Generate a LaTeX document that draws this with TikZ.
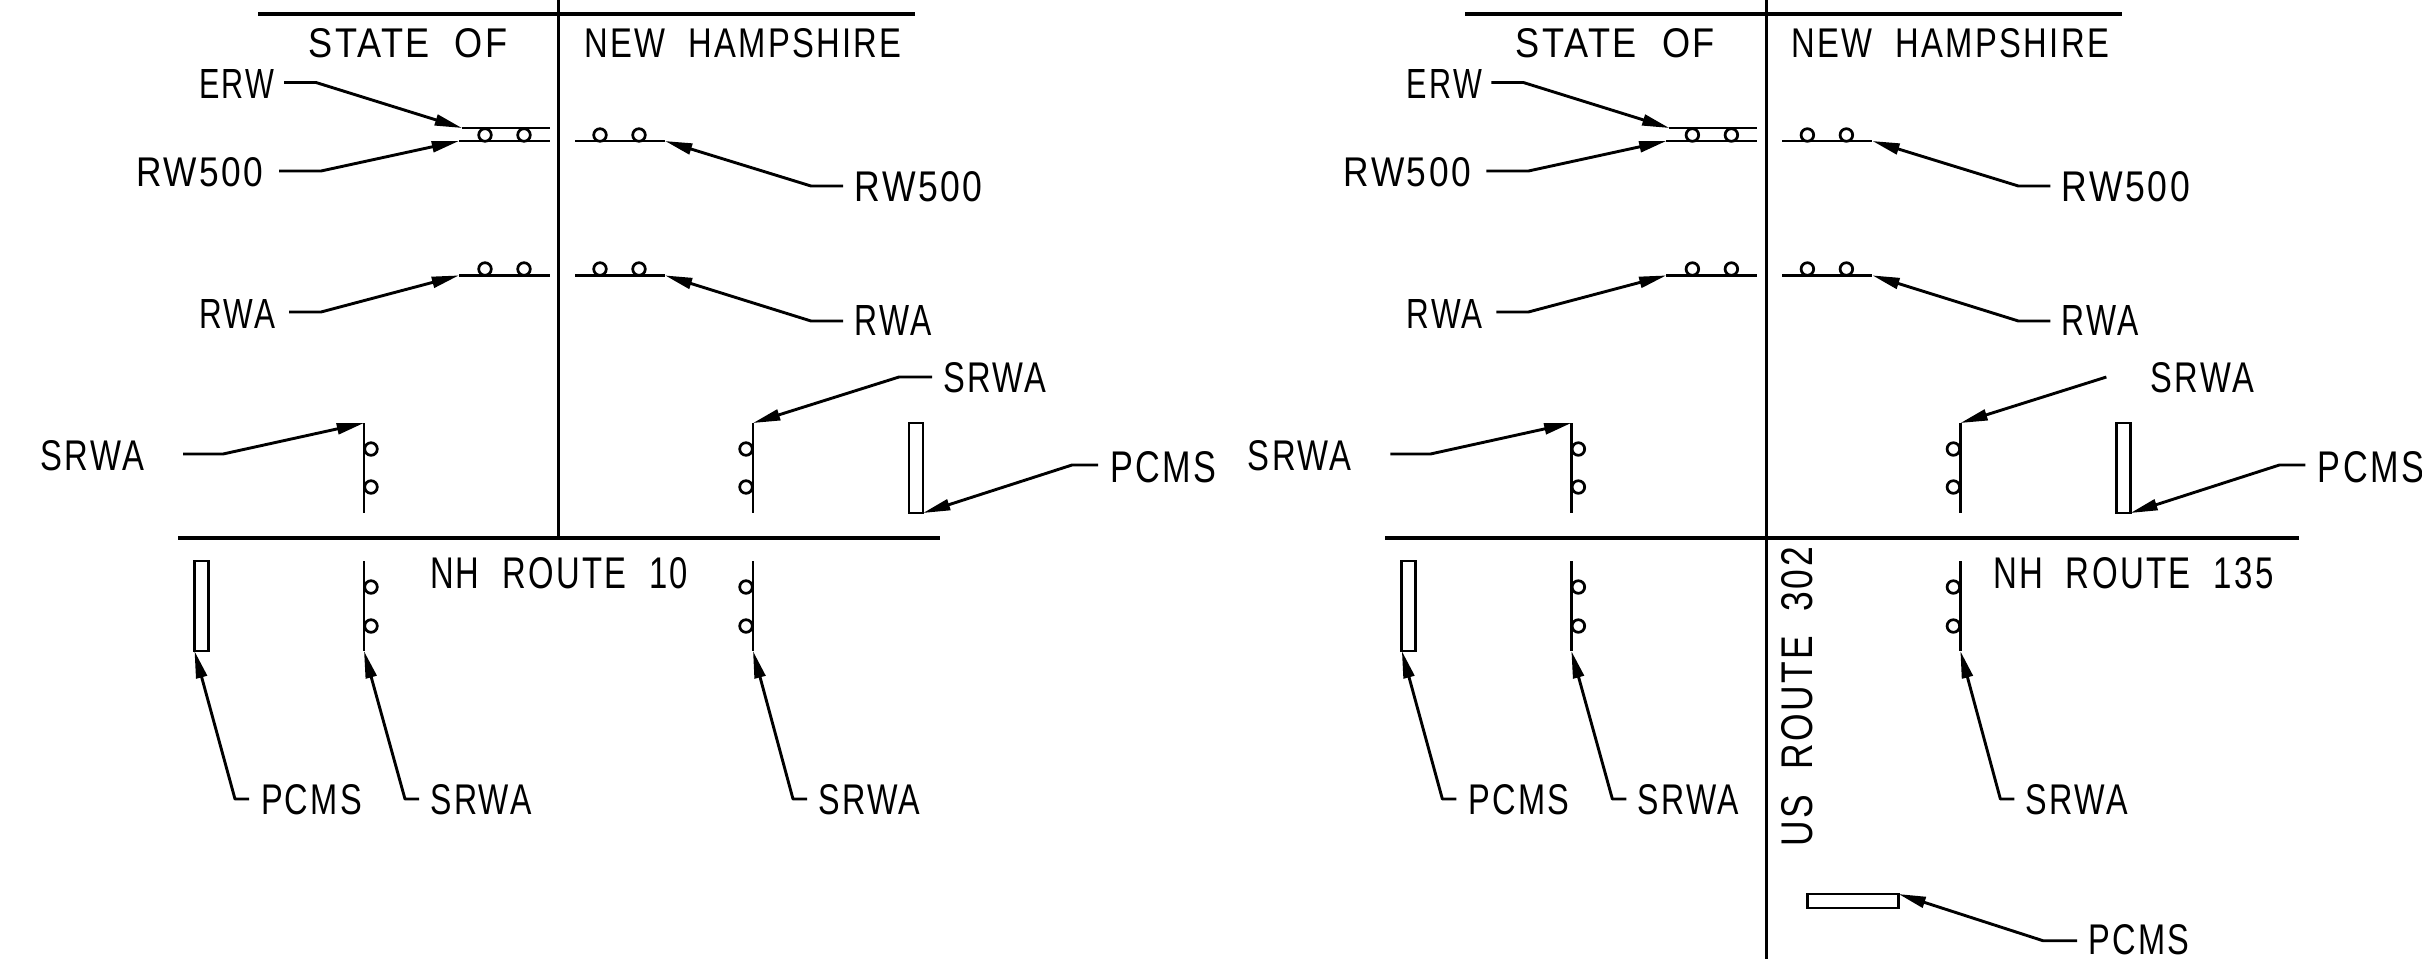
\documentclass[tikz,border=0pt]{standalone}
\usepackage{fontspec}
\usepackage{graphicx}
\setmainfont[LetterSpace=7]{Liberation Sans}
\usetikzlibrary{arrows.meta}
\tikzset{
  signline/.style={line width=1.45pt},
  rule/.style={line width=2.1pt},
  axis/.style={line width=1.7pt},
  lamp/.style={line width=1.55pt},
  leader/.style={line width=1.65pt,line join=round,-{Triangle[length=15.5pt,width=6.2pt]}},
  board/.style={draw,line width=1.6pt,inner sep=0pt,outer sep=0pt},
  txt/.style={inner sep=0pt,outer sep=0pt}
}
% label fitted to its box: name, x0, x1, y0, y1, text
\newcommand{\lab}[6]{%
  \pgfmathsetlengthmacro\labw{(#3-#2+1)*0.02cm}%
  \pgfmathsetlengthmacro\labh{(#5-#4+1)*0.02cm}%
  \node[txt] (#1) at ({(#2+#3)/2},{(#4+#5)/2+0.5}) {\resizebox{\labw}{\labh}{\fontsize{22}{24}\selectfont #6}};}
% connector: name, start, elbow, tip (coordinates, or a node anchor with empty last argument)
\newcommand{\conn}[7]{%
  \coordinate (#1s) at (#2,#3);
  \coordinate (#1e) at (#4,#5);
  \ifx\relax#7\relax
    \draw[leader] (#1s) -- (#1e) -- (#6);
  \else
    \coordinate (#1t) at (#6,#7);
    \draw[leader] (#1s) -- (#1e) -- (#1t);
  \fi}
\newcommand{\lamps}[5]{%
  \draw[lamp] (#2,#4) circle[radius=6.3] (#3,#5) circle[radius=6.3];}
% shared part of each panel: prefix, start x of the upper right SRWA connector
\newcommand{\panel}[2]{%
  \draw[rule] (258,14) -- (915,14);
  \lab{#1state}{309}{507}{29}{57}{STATE\ \ OF}
  \lab{#1nh}{585}{901}{29}{57}{NEW\ \ HAMPSHIRE}
  % upper left
  \lab{#1erw}{200}{274}{69}{97}{ERW}
  \draw[signline] (462,128) -- (550,128);
  \draw[signline] (459,141) -- (550,141);
  \lamps{}{485}{524}{135}{135}
  \conn{#1c1}{284}{82.5}{316}{82.5}{462}{128}
  \lab{#1rwl}{137}{263}{158}{186}{RW500}
  \conn{#1c2}{279}{171}{321}{171}{459}{141}
  % upper right
  \draw[signline] (575,141) -- (665,141);
  \lamps{}{600}{639}{135}{135}
  \lab{#1rwr}{855}{982}{172}{201}{RW500}
  \conn{#1c3}{843}{186}{811}{186}{665}{141}
  % RWA
  \draw[signline] (459,275.4) -- (550,275.4);
  \lamps{}{485}{524}{269}{269}
  \lab{#1ral}{200}{275}{299}{327}{RWA}
  \conn{#1c4}{289}{312}{321}{312}{459}{275.4}
  \draw[signline] (575,275.4) -- (665,275.4);
  \lamps{}{600}{639}{269}{269}
  \lab{#1rar}{855}{931}{305}{334}{RWA}
  \conn{#1c5}{843}{321}{811}{321}{665}{275.4}
  % SRWA row
  \lab{#1sl}{41}{143.5}{441}{470}{SRWA}
  \draw[signline] (364,423) -- (364,512.5);
  \lamps{}{371}{371}{449}{487}
  \conn{#1c6}{183}{454}{223}{454}{364}{423}
  \draw[signline] (753,423) -- (753,512.5);
  \lamps{}{746}{746}{449}{487}
  \lab{#1sr}{944}{1046}{363}{392}{SRWA}
  \conn{#1c7}{#2}{377}{899}{377}{753}{423}
  \node[board,minimum width=14*0.02cm,minimum height=90*0.02cm] (#1pa) at (916,468) {};
  \lab{#1pal}{1111}{1216}{452}{482}{PCMS}
  \conn{#1c8}{1098}{465}{1072}{465}{#1pa.south east}{}
  % lower row
  \node[board,minimum width=14*0.02cm,minimum height=90*0.02cm] (#1pb) at (201.5,606) {};
  \lab{#1pbl}{261.5}{361.5}{785}{814}{PCMS}
  \conn{#1c9}{249}{799}{235}{799}{#1pb.south west}{}
  \draw[signline] (364,561) -- (364,651);
  \lamps{}{371}{371}{587}{626}
  \lab{#1sb}{431}{531}{785}{814}{SRWA}
  \conn{#1c10}{419}{799}{405}{799}{364}{651}
  \draw[signline] (753,561) -- (753,651);
  \lamps{}{746}{746}{587}{626}
  \lab{#1sc}{819}{920}{785}{814}{SRWA}
  \conn{#1c11}{807}{799}{793}{799}{753}{651}
}
\begin{document}
\begin{tikzpicture}[x=0.02cm,y=-0.02cm]
\useasboundingbox (0,0) rectangle (2422,968);
\fill[white] (0,0) rectangle (2422,968);
% left panel
\begin{scope}
  \panel{L}{932}
  \lab{Lroute}{430.5}{687.5}{558}{588}{NH\ \ ROUTE\ \ 10}
  \draw[axis] (558,0) -- (558,538);
  \draw[rule] (178,538) -- (939.5,538);
\end{scope}
% right panel
\begin{scope}[xshift=24.152cm]
  \panel{R}{899}
  \draw[axis] (559,0) -- (559,959);
  \draw[rule] (178,538) -- (1091.4,538);
\end{scope}
\lab{Rroute}{1993.5}{2273}{558}{588}{NH\ \ ROUTE\ \ 135}
\pgfmathsetlengthmacro\rw{299*0.02cm}
\pgfmathsetlengthmacro\rh{31*0.02cm}
\node[txt,rotate=90] (Rus) at (1797.5,696.7) {\resizebox{\rw}{\rh}{\fontsize{22}{24}\selectfont US\ \ ROUTE\ \ 302}};
\node[board,minimum width=91*0.02cm,minimum height=14*0.02cm] (Rpc) at (1853,901) {};
\lab{Rpcl}{2089}{2189}{925}{954}{PCMS}
\conn{Rc12}{2077}{940.7}{2043}{940.7}{Rpc.north east}{}
\end{tikzpicture}
\end{document}
